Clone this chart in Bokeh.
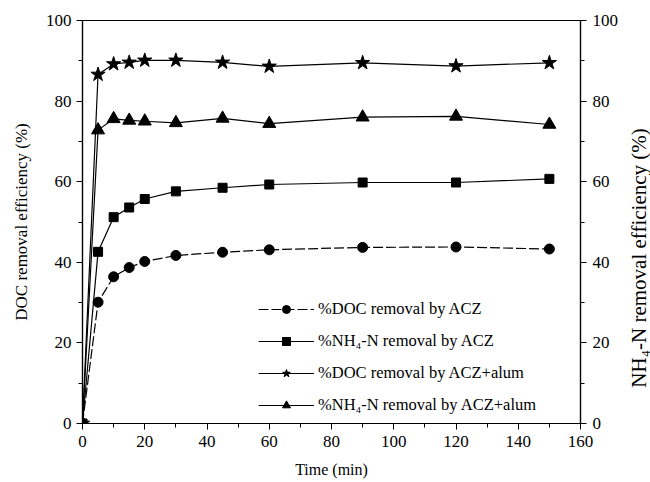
import math
from bokeh.plotting import figure
from bokeh.layouts import row
from bokeh.models import LinearAxis, FixedTicker, Legend, LegendItem, Range1d
from bokeh.core.properties import value
from bokeh.embed import file_html
from bokeh.resources import INLINE

time_min = [0, 5, 10, 15, 20, 30, 45, 60, 90, 120, 150]
doc_acz = [0, 30.1, 36.4, 38.7, 40.2, 41.7, 42.5, 43.1, 43.7, 43.8, 43.3]
nh4_acz = [0, 42.6, 51.2, 53.6, 55.7, 57.6, 58.5, 59.3, 59.8, 59.8, 60.7]
doc_acz_alum = [0, 86.6, 89.2, 89.6, 90.1, 90.1, 89.6, 88.6, 89.5, 88.7, 89.5]
nh4_acz_alum = [0, 72.8, 75.6, 75.2, 75.0, 74.6, 75.7, 74.4, 76.0, 76.2, 74.2]

labels = ["%DOC removal by ACZ", "%NH\u2084-N removal by ACZ",
          "%DOC removal by ACZ+alum", "%NH\u2084-N removal by ACZ+alum"]
right_label = "NH\u2084-N removal efficiency (%)"
x_ticks = [0, 20, 40, 60, 80, 100, 120, 140, 160]
y_ticks = [0, 20, 40, 60, 80, 100]

FONT = "Liberation Serif"

p = figure(width=626, height=482, output_backend="svg", toolbar_location=None,
           x_range=Range1d(0, 160), y_range=Range1d(0, 100),
           min_border_left=82, min_border_right=46, min_border_top=20, min_border_bottom=59)
p.background_fill_color = "white"
p.border_fill_color = "white"
p.outline_line_color = "black"
p.outline_line_width = 1.2
p.grid.visible = False

def style_axis(ax, ticks, minors):
    ax.ticker = FixedTicker(ticks=ticks, minor_ticks=minors)
    ax.major_label_text_font = FONT
    ax.major_label_text_font_size = "17px"
    ax.major_label_text_color = "black"
    ax.axis_label_text_font = FONT
    ax.axis_label_text_font_size = "17px"
    ax.axis_label_text_font_style = "normal"
    ax.axis_label_text_color = "black"
    ax.axis_line_color = "black"
    ax.axis_line_width = 1.2
    ax.major_tick_in = 0
    ax.major_tick_out = 6
    ax.minor_tick_in = 0
    ax.minor_tick_out = 4
    ax.major_tick_line_color = "black"
    ax.minor_tick_line_color = "black"

xminor = [10, 30, 50, 70, 90, 110, 130, 150]
yminor = [10, 30, 50, 70, 90]

xa = p.xaxis[0]
style_axis(xa, x_ticks, xminor)
xa.axis_label = "Time (min)"
xa.axis_label_text_font_size = "16px"
xa.axis_label_standoff = 11
xa.major_label_standoff = 6

ya = p.yaxis[0]
style_axis(ya, y_ticks, yminor)
ya.axis_label = "DOC removal efficiency (%)"
ya.axis_label_text_font_size = "17px"
ya.axis_label_standoff = 12
ya.major_label_standoff = 5

ra = LinearAxis()
style_axis(ra, y_ticks, yminor)
ra.major_label_standoff = 6
p.add_layout(ra, "right")

series = [
    (doc_acz, "circle", 10, "10 3"),
    (nh4_acz, "square", 9, "solid"),
    (doc_acz_alum, "star", 15, "solid"),
    (nh4_acz_alum, "triangle", 13, "solid"),
]
items = []
for (vals, mk, sz, dash), lab in zip(series, labels):
    ln = p.line(time_min, vals, line_color="black", line_width=1.2, line_dash=dash)
    sc = p.scatter(time_min, vals, marker=mk, size=sz, fill_color="black", line_color="black")
    items.append(LegendItem(label=lab, renderers=[ln, sc]))

leg = Legend(items=items, location=(176, 8))
leg.background_fill_alpha = 0
leg.border_line_color = None
leg.padding = 0
leg.margin = 0
leg.spacing = 12
leg.glyph_width = 56
leg.glyph_height = 20
leg.label_height = 20
leg.label_standoff = 4
leg.label_text_font = FONT
leg.label_text_font_size = "16.5px"
leg.label_text_color = "black"
p.add_layout(leg, "center")

# narrow side panel holding the right-hand axis title (reads bottom to top)
side = figure(width=24, height=482, output_backend="svg", toolbar_location=None,
              x_range=Range1d(0, 24), y_range=Range1d(0, 482),
              min_border=0, min_border_left=0, min_border_right=0,
              min_border_top=0, min_border_bottom=0)
side.axis.visible = False
side.grid.visible = False
side.outline_line_color = None
side.background_fill_color = "white"
side.border_fill_color = "white"
side.text(x=[12], y=[198], text=[right_label], angle=math.pi / 2,
          text_align="center", text_baseline="middle",
          text_font=value(FONT), text_font_size="21px", text_color="black")

layout = row(p, side, spacing=0)
open("out.html", "w").write(file_html(layout, INLINE))
